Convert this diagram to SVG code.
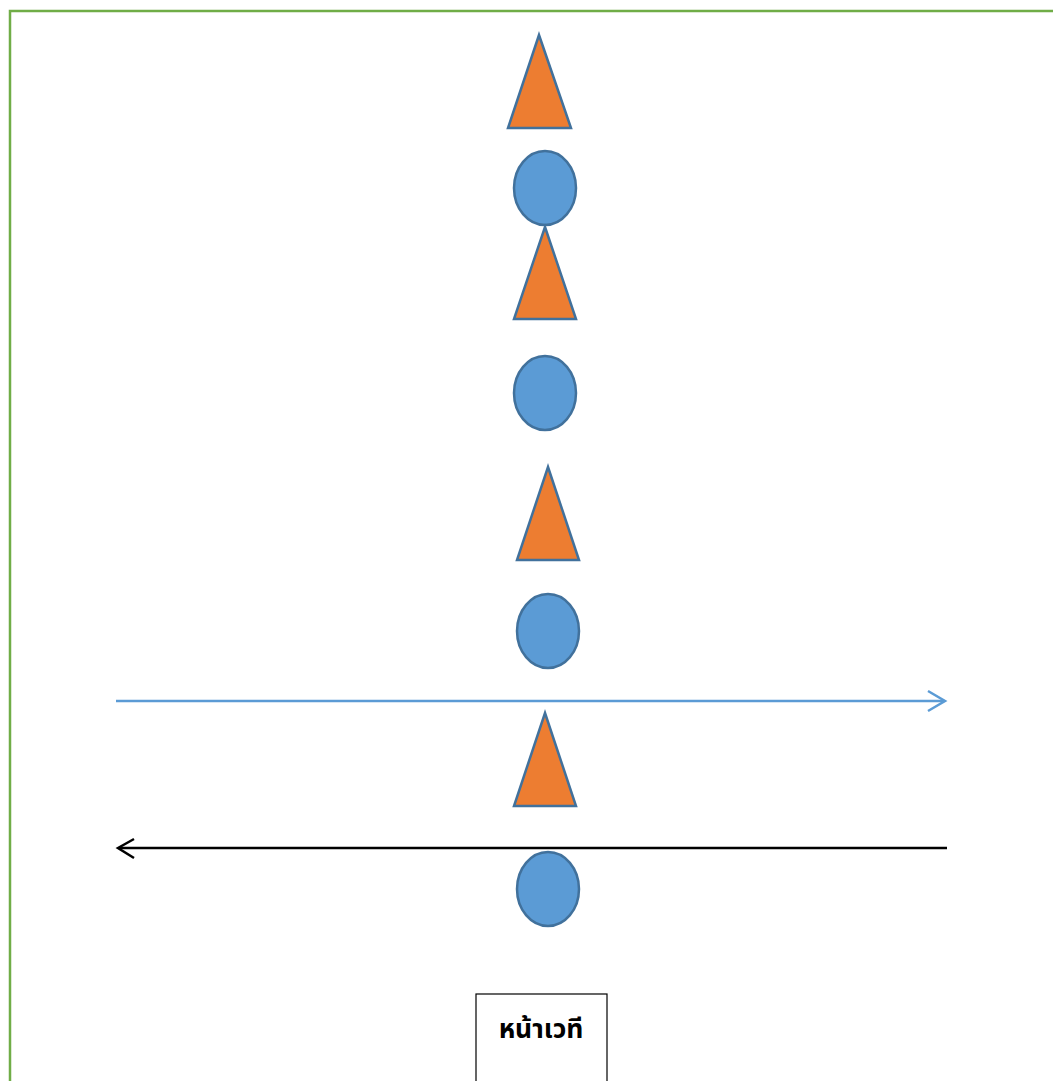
<svg xmlns="http://www.w3.org/2000/svg" width="1053" height="1081" viewBox="0 0 1053 1081">
<defs>
<style>
.tri{fill:#ED7D31;stroke:#41719C;stroke-width:2.5;stroke-linejoin:miter}
.ell{fill:#5B9BD5;stroke:#41719C;stroke-width:2.5}
.lbl{font-family:"Noto Sans Thai","Noto Sans","DejaVu Sans",sans-serif;font-size:26.5px;font-weight:bold;fill:#000;text-anchor:middle}
</style>
</defs>
<rect width="1053" height="1081" fill="#fff"/>
<path d="M10 1081 V11 H1053" fill="none" stroke="#70AD47" stroke-width="2.5"/>
<g id="connectors">
<g id="arrow-right">
<line x1="116" y1="701" x2="944" y2="701" stroke="#5B9BD5" stroke-width="2.5"/>
<polyline points="928,691 945,701 928,711" fill="none" stroke="#5B9BD5" stroke-width="2.5"/>
</g>
<g id="arrow-left">
<line x1="947" y1="848" x2="119" y2="848" stroke="#000" stroke-width="2.5"/>
<polyline points="134,839 118,848 134,858" fill="none" stroke="#000" stroke-width="2.5"/>
</g>
</g>
<g id="tri1"><polygon class="tri" points="539,35 571,128 508,128"/></g>
<g id="ell1"><ellipse class="ell" cx="545" cy="188" rx="31" ry="37"/></g>
<g id="tri2"><polygon class="tri" points="545,227 576,319 514,319"/></g>
<g id="ell2"><ellipse class="ell" cx="545" cy="393" rx="31" ry="37"/></g>
<g id="tri3"><polygon class="tri" points="548,467 579,560 517,560"/></g>
<g id="ell3"><ellipse class="ell" cx="548" cy="631" rx="31" ry="37"/></g>
<g id="tri4"><polygon class="tri" points="545,713 576,806 514,806"/></g>
<g id="ell4"><ellipse class="ell" cx="548" cy="889" rx="31" ry="37"/></g>
<g id="stage">
<rect x="476" y="994" width="131" height="100" fill="#fff" stroke="#000" stroke-width="1.2"/>
<text class="lbl" x="541" y="1038">หน้าเวที</text>
</g>
</svg>
